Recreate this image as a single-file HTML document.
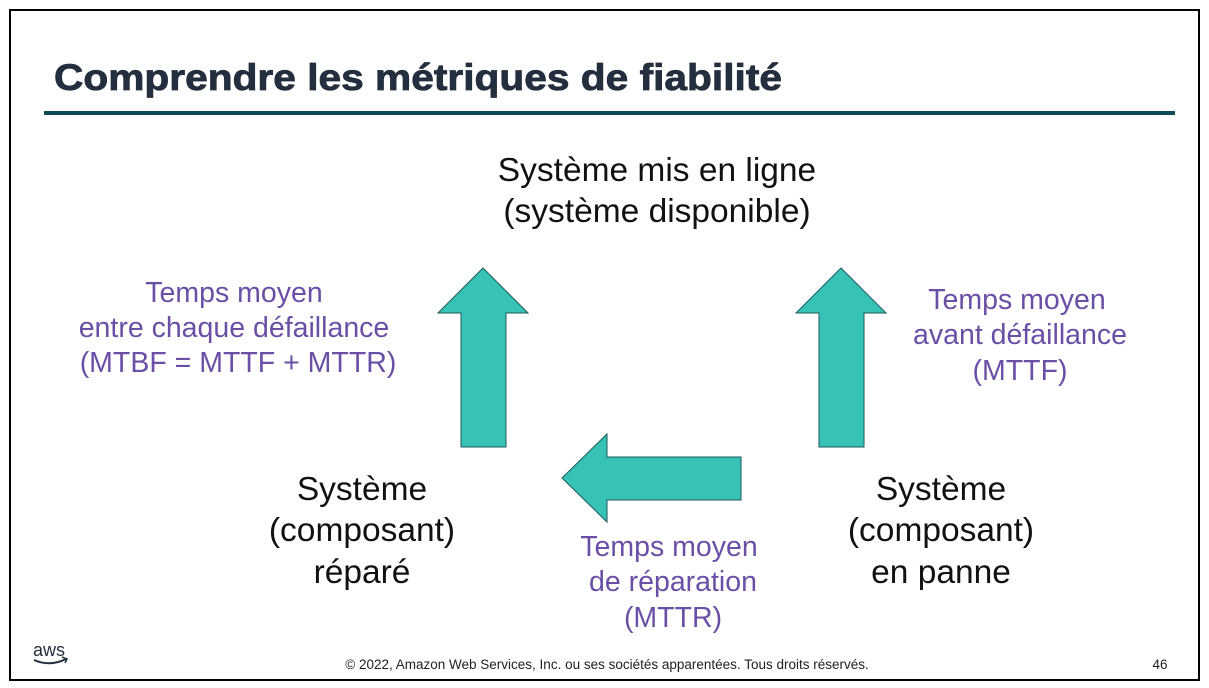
<!DOCTYPE html>
<html><head><meta charset="utf-8"><style>
html,body{margin:0;padding:0;background:#fff}
svg{display:block}
text{font-family:"Liberation Sans",sans-serif}
</style></head><body>
<svg width="1209" height="688" viewBox="0 0 1209 688">
<rect x="10" y="10" width="1189" height="670" fill="#fff" stroke="#000" stroke-width="2"/>
<text x="54" y="90" font-size="37" font-weight="bold" fill="#232f3e" stroke="#232f3e" stroke-width="0.8" textLength="728" lengthAdjust="spacingAndGlyphs">Comprendre les métriques de fiabilité</text>
<rect x="44" y="111" width="1131" height="4" fill="#0f4a55"/>

<g font-size="33.5" fill="#111" text-anchor="middle">
<text x="657" y="181">Système mis en ligne</text>
<text x="657" y="222">(système disponible)</text>
<text x="362" y="500">Système</text>
<text x="362" y="541">(composant)</text>
<text x="362" y="583">réparé</text>
<text x="941" y="500">Système</text>
<text x="941" y="541">(composant)</text>
<text x="941" y="583">en panne</text>
</g>

<g font-size="28.5" fill="#6b4fa6" text-anchor="middle">
<text x="234" y="302">Temps moyen</text>
<text x="234" y="337">entre chaque défaillance</text>
<text x="238" y="372">(MTBF = MTTF + MTTR)</text>
<text x="1017" y="309">Temps moyen</text>
<text x="1020" y="344">avant défaillance</text>
<text x="1020" y="380">(MTTF)</text>
<text x="669" y="556">Temps moyen</text>
<text x="673" y="591">de réparation</text>
<text x="673" y="627">(MTTR)</text>
</g>

<polygon points="483,268 528,313 506,313 506,447 461,447 461,313 438,313" fill="#36c2b4" stroke="#1f5a5a" stroke-width="1"/>
<polygon points="841,268 886,313 864,313 864,447 819,447 819,313 796,313" fill="#36c2b4" stroke="#1f5a5a" stroke-width="1"/>
<polygon points="562,478 607,434 607,457 741,457 741,500 607,500 607,522" fill="#36c2b4" stroke="#1f5a5a" stroke-width="1"/>

<g>
<text x="33" y="656" font-size="18" fill="#232f3e">aws</text>
<path d="M34 660 Q50 667 66 659" fill="none" stroke="#232f3e" stroke-width="2"/>
<path d="M62 657 L67 659 L65 663" fill="none" stroke="#232f3e" stroke-width="1.5"/>
</g>
<text x="607" y="669" font-size="13.5" fill="#222" text-anchor="middle">© 2022, Amazon Web Services, Inc. ou ses sociétés apparentées. Tous droits réservés.</text>
<text x="1160" y="669" font-size="13.5" fill="#222" text-anchor="middle">46</text>
</svg>
</body></html>
